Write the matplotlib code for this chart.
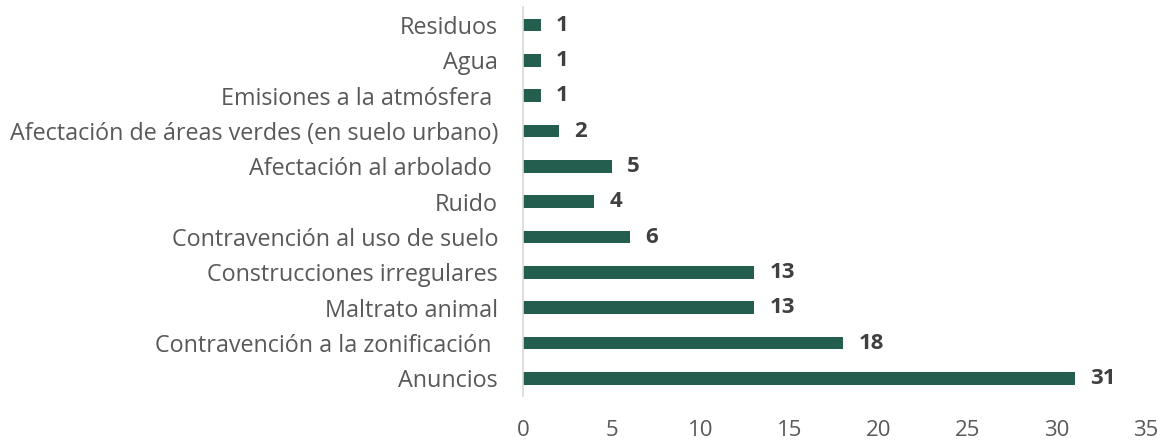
import matplotlib
matplotlib.use("Agg")
import matplotlib.pyplot as plt

categories = ["Residuos", "Agua", "Emisiones a la atmósfera ",
              "Afectación de áreas verdes (en suelo urbano)",
              "Afectación al arbolado ", "Ruido",
              "Contravención al uso de suelo", "Construcciones irregulares",
              "Maltrato animal", "Contravención a la zonificación ", "Anuncios"]
values = [1, 1, 1, 2, 5, 4, 6, 13, 13, 18, 31]
xticks = [0, 5, 10, 15, 20, 25, 30, 35]

plt.rcParams['font.family'] = ['Open Sans', 'DejaVu Sans']

fig = plt.figure(figsize=(11.64, 4.42), dpi=100)
ax = fig.add_axes([523/1164, 1-396/442, (1146-523)/1164, (396-7.4)/442])

pos = list(range(len(categories)))
ax.barh(pos, values, height=0.36, color="#245E4F")
ax.set_ylim(len(categories)-0.5, -0.5)
ax.set_xlim(0, 35)
ax.set_yticks(pos)
ax.set_yticklabels(categories, fontsize=16.8, color="#595959")
ax.set_xticks(xticks)
ax.set_xticklabels([str(t) for t in xticks], fontsize=16, color="#595959")
ax.tick_params(axis='y', length=0, pad=18)
ax.tick_params(axis='x', length=0, pad=17)
for s in ['top', 'right', 'bottom']:
    ax.spines[s].set_visible(False)
ax.spines['left'].set_color("#D9D9D9")
ax.spines['left'].set_linewidth(1.2)

for p, v in zip(pos, values):
    ax.annotate(str(v), (v, p), xytext=(11, 0), textcoords='offset points',
                ha='left', va='center', fontsize=16, fontweight='bold', color="#404040")

fig.savefig("out.png", dpi=100)
